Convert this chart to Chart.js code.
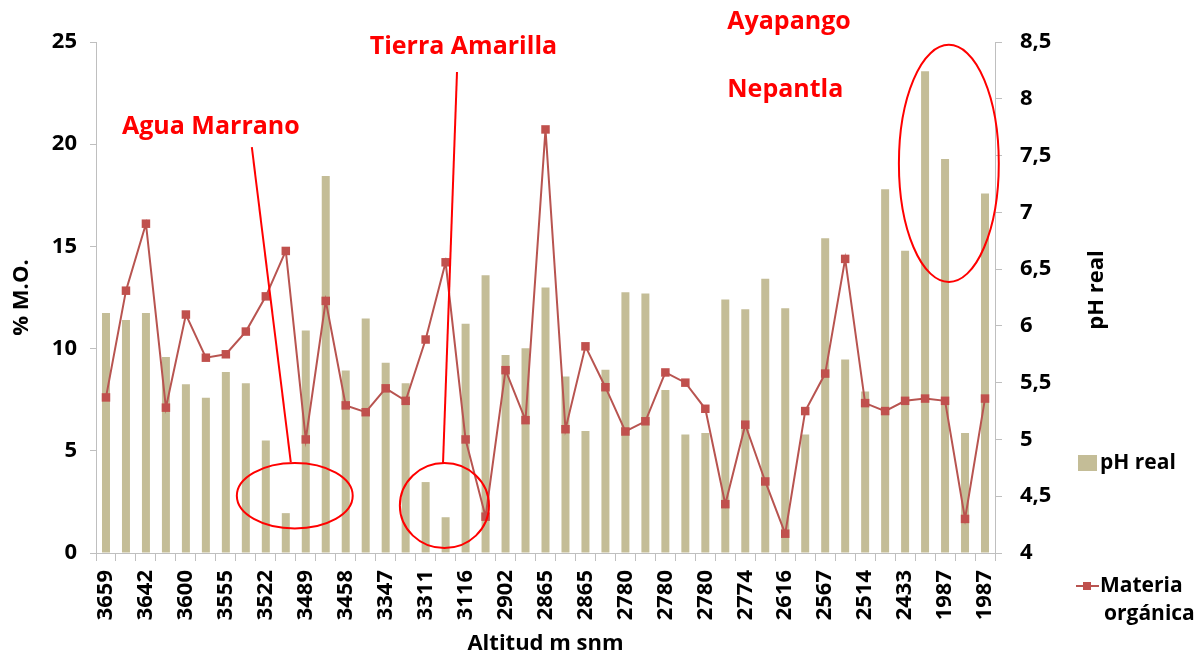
<!DOCTYPE html>
<html lang="es">
<head>
    <meta charset="UTF-8">
    <title>% M.O. y pH real por altitud</title>
    <script src="https://cdn.jsdelivr.net/npm/chart.js"></script>
    <style>
        body { margin: 0; background: #fff; }
    </style>
</head>
<body>
    <canvas id="myChart" width="1199" height="655"></canvas>
    <script>
        // Altitude labels shown under every second bar
        const tickLabels = ['3659', '3642', '3600', '3555', '3522', '3489', '3458', '3347', '3311', '3116', '2902', '2865',
            '2865', '2780', '2780', '2780', '2774', '2616', '2567', '2514', '2433', '1987', '1987'];

        // Bars, left axis (% M.O.)
        const barValues = [11.74, 11.40, 11.74, 9.59, 8.26, 7.60, 8.86, 8.30, 5.50, 1.95, 10.88, 18.45, 8.93, 11.47,
            9.31, 8.30, 3.47, 1.75, 11.21, 13.59, 9.69, 10.02, 12.99, 8.64, 5.97, 8.96, 12.76, 12.69, 7.97,
            5.80, 5.87, 12.40, 11.93, 13.42, 11.97, 5.80, 15.40, 9.47, 7.90, 17.79, 14.79, 23.57, 19.27, 5.87, 17.59];

        // Line, right axis (pH real)
        const lineValues = [5.37, 6.31, 6.90, 5.28, 6.10, 5.72, 5.75, 5.95, 6.26, 6.66, 5.00, 6.22, 5.30, 5.24,
            5.45, 5.34, 5.88, 6.56, 5.00, 4.32, 5.61, 5.17, 7.73, 5.09, 5.82, 5.46, 5.07, 5.16, 5.59,
            5.50, 5.27, 4.43, 5.13, 4.63, 4.17, 5.25, 5.58, 6.59, 5.32, 5.25, 5.34, 5.36, 5.34, 4.30, 5.36];

        const siteNames = ['Agua Marrano', 'Tierra Amarilla', 'Ayapango', 'Nepantla'];

        const categories = barValues.map((v, i) => i % 2 === 0 ? tickLabels[i / 2] : '');

        // annotation placement in data units (category index, % M.O.)
        const notes = {
            text: [[0.8, 20.84], [13.2, 24.76], [31.1, 25.98], [31.1, 22.65]],
            lines: [[[7.3, 19.86], [9.25, 4.45]], [[17.57, 23.53], [16.87, 4.40]]],
            ellipses: [[9.45, 2.8, 2.9, 1.6], [16.94, 2.32, 2.23, 2.08], [42.19, 19.06, 2.5, 5.8]]
        };

        const font = 'bold 22px "Open Sans"';
        const tickFont = { family: 'Open Sans', size: 22, weight: 'bold' };
        const axisGray = '#bfbfbf';

        const overlay = {
            id: 'overlay',
            afterDraw(chart) {
                const ctx = chart.ctx;
                const x = chart.scales.x, y = chart.scales.y;
                const px = v => x.getPixelForValue(v), py = v => y.getPixelForValue(v);
                ctx.save();

                // red annotations
                ctx.strokeStyle = '#ff0000';
                ctx.fillStyle = '#ff0000';
                ctx.lineWidth = 2;
                ctx.font = 'bold 25px "Open Sans"';
                ctx.textBaseline = 'middle';
                ctx.textAlign = 'left';
                siteNames.forEach((name, i) => {
                    ctx.fillText(name, px(notes.text[i][0]), py(notes.text[i][1]));
                });
                notes.lines.forEach(([a, b]) => {
                    ctx.beginPath();
                    ctx.moveTo(px(a[0]), py(a[1]));
                    ctx.lineTo(px(b[0]), py(b[1]));
                    ctx.stroke();
                });
                notes.ellipses.forEach(([cx, cy, rx, ry]) => {
                    ctx.beginPath();
                    ctx.ellipse(px(cx), py(cy), px(cx + rx) - px(cx), py(cy) - py(cy + ry), 0, 0, Math.PI * 2);
                    ctx.stroke();
                });

                // right axis title, reads bottom to top
                ctx.fillStyle = '#000';
                ctx.font = font;
                ctx.textAlign = 'center';
                ctx.translate(1097, 290);
                ctx.rotate(-Math.PI / 2);
                ctx.fillText('pH real', 0, 0);
                ctx.restore();

                // legend
                ctx.save();
                ctx.font = 'bold 21px "Open Sans"';
                ctx.textBaseline = 'middle';
                ctx.fillStyle = '#c4bd97';
                ctx.fillRect(1078, 455, 19, 16);
                ctx.fillStyle = '#000';
                ctx.fillText(chart.data.datasets[1].label, 1100, 463);
                ctx.strokeStyle = '#b85450';
                ctx.lineWidth = 2;
                ctx.beginPath();
                ctx.moveTo(1076, 586);
                ctx.lineTo(1099, 586);
                ctx.stroke();
                ctx.fillStyle = '#c0504d';
                ctx.fillRect(1083, 582, 8, 8);
                ctx.fillStyle = '#000';
                ctx.fillText('Materia', 1100, 586);
                ctx.fillText('orgánica', 1104, 614);
                ctx.restore();
            }
        };

        const ctx = document.getElementById('myChart').getContext('2d');

        const myChart = new Chart(ctx, {
            data: {
                labels: categories,
                datasets: [{
                    type: 'line',
                    label: 'Materia orgánica',
                    data: lineValues,
                    yAxisID: 'y1',
                    borderColor: '#b85450',
                    borderWidth: 2,
                    backgroundColor: '#c0504d',
                    pointStyle: 'rect',
                    pointRadius: 6,
                    pointBorderWidth: 0,
                    tension: 0,
                    order: 0
                }, {
                    type: 'bar',
                    label: 'pH real',
                    data: barValues,
                    yAxisID: 'y',
                    backgroundColor: '#c4bd97',
                    categoryPercentage: 1,
                    barPercentage: 0.4,
                    order: 1
                }]
            },
            options: {
                responsive: false,
                animation: false,
                devicePixelRatio: 1,
                layout: { padding: { top: 42, left: 0, right: 0, bottom: 0 } },
                plugins: {
                    legend: { display: false },
                    tooltip: { enabled: false }
                },
                scales: {
                    x: {
                        afterFit: s => { s.height = 102; },
                        border: { color: axisGray },
                        grid: { drawOnChartArea: false, color: axisGray, tickLength: 8 },
                        ticks: {
                            font: tickFont, color: '#000', padding: 9,
                            autoSkip: false, minRotation: 90, maxRotation: 90
                        },
                        title: {
                            display: true, text: 'Altitud m snm', color: '#000',
                            font: { family: 'Open Sans', size: 22, weight: 'bold', lineHeight: 1 },
                            padding: 0
                        }
                    },
                    y: {
                        position: 'left',
                        min: 0, max: 25,
                        afterFit: s => { s.width = 96; },
                        border: { color: axisGray },
                        grid: { drawOnChartArea: false, color: axisGray, tickLength: 6 },
                        ticks: { stepSize: 5, font: tickFont, color: '#000', padding: 13 },
                        title: {
                            display: true, text: '% M.O.', color: '#000',
                            font: { family: 'Open Sans', size: 22, weight: 'bold', lineHeight: 1 },
                            padding: { top: 11, bottom: 0 }
                        }
                    },
                    y1: {
                        position: 'right',
                        min: 4, max: 8.5,
                        afterFit: s => { s.width = 204; },
                        border: { color: axisGray },
                        grid: { drawOnChartArea: false, color: axisGray, tickLength: 7 },
                        ticks: {
                            stepSize: 0.5, font: tickFont, color: '#000', padding: 18,
                            callback: v => String(v).replace('.', ',')
                        }
                    }
                }
            },
            plugins: [overlay]
        });
    </script>
</body>
</html>
